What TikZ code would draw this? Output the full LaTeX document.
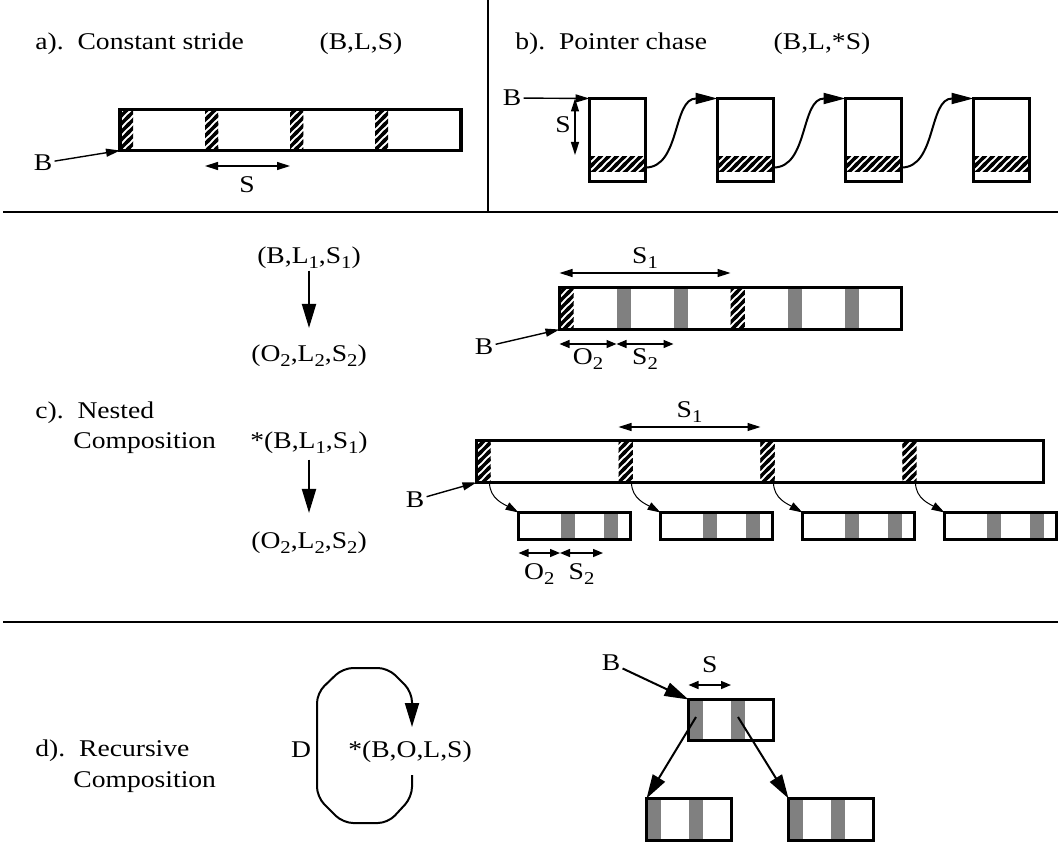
\documentclass[tikz,border=0pt]{standalone}
\usepackage{fontspec}
\setmainfont{Liberation Serif}[FakeStretch=1.15]
\usepackage{tikz}
\usetikzlibrary{arrows.meta,patterns}
\pgfdeclarepatternformonly{hatch}{\pgfqpoint{-1pt}{-1pt}}{\pgfqpoint{5pt}{5pt}}{\pgfqpoint{4pt}{4pt}}{%
  \pgfsetlinewidth{1.6pt}
  \pgfpathmoveto{\pgfqpoint{-1pt}{-1pt}}\pgfpathlineto{\pgfqpoint{5pt}{5pt}}
  \pgfpathmoveto{\pgfqpoint{-1pt}{3pt}}\pgfpathlineto{\pgfqpoint{1pt}{5pt}}
  \pgfpathmoveto{\pgfqpoint{3pt}{-1pt}}\pgfpathlineto{\pgfqpoint{5pt}{1pt}}
  \pgfusepath{stroke}}
\newcommand\lsub[1]{\raisebox{-2.5pt}{\fontsize{9}{9}\selectfont#1}}

\begin{document}
\begin{tikzpicture}[x=0.5pt, y=-0.5pt, font=\fontsize{12}{15}\selectfont,
  box/.style={draw, line width=1.6pt, inner sep=0pt, outer sep=0pt, anchor=north west},
  ttl/.style={anchor=base west, inner sep=0pt},
  fml/.style={anchor=base, inner sep=1pt},
  lbl/.style={inner sep=1pt},
  grayband/.style={fill=black!50},
  sep/.style={line width=0.8pt},
  arr/.style={-{Triangle[length=7pt,width=4pt]}, line width=0.7pt},
  darr/.style={{Triangle[length=6.5pt,width=4pt]}-{Triangle[length=6.5pt,width=4pt]}, line width=0.7pt},
  sarr/.style={{Triangle[length=5pt,width=4pt]}-{Triangle[length=5pt,width=4pt]}, line width=0.7pt},
  curv/.style={-{Triangle[length=11pt,width=5.5pt]}, line width=1pt},
  arrc/.style={-{Triangle[length=6.5pt,width=4pt]}, line width=0.5pt},
  bigarr/.style={-{Triangle[length=12pt,width=7pt]}, line width=1pt}]
\useasboundingbox (0,0) rectangle (1058,845);

% separators
\draw[sep] (3,212) -- (1058,212);
\draw[sep] (488,0) -- (488,212);
\draw[sep] (3,622) -- (1058,622);

% a) constant stride
\node[ttl] (ta) at (35,50) {a).\ \ Constant stride};
\node[fml] (af) at (361,50) {(B,L,S)};
\foreach \i in {0,...,3}
  \fill[pattern=hatch] (120+85*\i,109.5) rectangle ++(13,41);
\node[box, minimum width=170.5pt, minimum height=20.5pt] (abar) at (120,109.5) {};
\node[lbl] (aB) at (43,163) {B};
\draw[arr] (aB) -- (abar.south west);
\coordinate (aS1) at (205,166);
\coordinate (aS2) at (290,166);
\draw[darr] (aS1) -- (aS2);
\node[lbl] (aS) at (247,185) {S};

% b) pointer chase
\node[ttl] (tb) at (515,50) {b).\ \ Pointer chase};
\node[fml] (bf) at (822,50) {(B,L,*S)};
\foreach \i in {1,...,4} {
  \fill[pattern=hatch] (461.5+128*\i,157) rectangle ++(56,15);
  \node[box, minimum width=28pt, minimum height=41.5pt] (b\i) at (461.5+128*\i,98.5) {};
}
\foreach \i/\j in {1/2,2/3,3/4}
  \draw[curv] ([yshift=7pt]b\i.south east) .. controls +(35,0) and +(-45,0) .. (b\j.north west);
\node[lbl] (bB) at (512,98) {B};
\draw[arr] (bB) -- (b1.north west);
\coordinate (bS1) at (575,98.5);
\coordinate (bS2) at (575,155);
\draw[darr] (bS1) -- (bS2);
\node[lbl] (bS) at (563,125) {S};

% c) nested composition
\node[ttl] (tc1) at (35,418) {c).\ \ Nested};
\node[ttl] (tc2) at (73,448) {Composition};
\node[fml] (f1) at (309,263) {(B,L\lsub{1},S\lsub{1})};
\node[fml] (f2) at (309,361) {(O\lsub{2},L\lsub{2},S\lsub{2})};
\draw[bigarr, shorten >=7pt] (f1) -- (f2);
\node[fml] (f3) at (309,448) {*(B,L\lsub{1},S\lsub{1})};
\node[fml] (f4) at (309,548) {(O\lsub{2},L\lsub{2},S\lsub{2})};
\draw[bigarr, shorten <=2pt, shorten >=8pt] (f3) -- (f4);

\foreach \i in {0,3}
  \fill[pattern=hatch] (559.5+57*\i,287.5) rectangle ++(14,42);
\foreach \i in {1,2,4,5}
  \fill[grayband] (559.5+57*\i,287.5) rectangle ++(14,42);
\node[box, minimum width=171pt, minimum height=21pt] (cbar) at (559.5,287.5) {};
\coordinate (cS1a) at (559.5,273);
\coordinate (cS1b) at (730.5,273);
\draw[darr] (cS1a) -- node[lbl, above=1pt] (cS1) {S\lsub{1}} (cS1b);
\coordinate (cO0) at (559.5,344);
\coordinate (cO1) at (616.5,344);
\coordinate (cO2) at (673.5,344);
\draw[sarr] (cO0) -- node[lbl, below=1pt] (cO) {O\lsub{2}} (cO1);
\draw[sarr] (cO1) -- node[lbl, below=1pt] (cS) {S\lsub{2}} (cO2);
\node[lbl] (cB) at (484,347) {B};
\draw[arr] (cB) -- (cbar.south west);

\foreach \i in {0,...,3}
  \fill[pattern=hatch] (476.5+142*\i,440.5) rectangle ++(14,42);
\node[box, minimum width=283.5pt, minimum height=21pt] (cbig) at (476.5,440.5) {};
\coordinate (cS1c) at (618.5,427);
\coordinate (cS1d) at (760.5,427);
\draw[darr] (cS1c) -- node[lbl, above=1pt] (cS1x) {S\lsub{1}} (cS1d);
\foreach \i in {1,...,4} {
  \fill[grayband] (418.5+142*\i,512.5) rectangle ++(14,27);
  \fill[grayband] (461.5+142*\i,512.5) rectangle ++(14,27);
  \node[box, minimum width=56pt, minimum height=13.5pt] (sb\i) at (376.5+142*\i,512.5) {};
  \coordinate (hs\i) at (347.5+142*\i,482.5);
  \draw[arrc] (hs\i) to[out=-90, in=150] (sb\i.north west);
}
\coordinate (cO3) at (518.5,553);
\coordinate (cO4) at (560,553);
\coordinate (cO5) at (603,553);
\draw[sarr] (cO3) -- node[lbl, below=4pt] (cOx) {O\lsub{2}} (cO4);
\draw[sarr] (cO4) -- node[lbl, below=4pt] (cSx) {S\lsub{2}} (cO5);
\node[lbl] (cB2) at (415,500) {B};
\draw[arr] (cB2) -- (cbig.south west);

% d) recursive composition
\node[ttl] (td1) at (35,756) {d).\ \ Recursive};
\node[ttl] (td2) at (73,787) {Composition};
\node[fml] (dform) at (410,757) {*(B,O,L,S)};
\node[fml] (dD) at (301,757) {D};
\coordinate (dlo) at (412,775);
\coordinate (dhi) at (412,727);
\draw[bigarr, rounded corners=5pt] (dlo) -- (412,797) -- (388,823) -- (343,823) -- (317,797)
  -- (317,693) -- (343,668) -- (388,668) -- (412,692) -- (dhi);

\fill[grayband] (688.5,699.5) rectangle ++(14,41);
\fill[grayband] (731,699.5) rectangle ++(14,41);
\node[box, minimum width=42.5pt, minimum height=20.5pt] (dtop) at (688.5,699.5) {};
\fill[grayband] (646.5,798.5) rectangle ++(14,42);
\fill[grayband] (689,798.5) rectangle ++(14,42);
\node[box, minimum width=42.5pt, minimum height=21pt] (dleft) at (646.5,798.5) {};
\fill[grayband] (788.5,798.5) rectangle ++(14,42);
\fill[grayband] (831,798.5) rectangle ++(14,42);
\node[box, minimum width=42.5pt, minimum height=21pt] (dright) at (788.5,798.5) {};
\coordinate (dp1) at (696,717);
\coordinate (dp2) at (738,717);
\draw[bigarr] (dp1) -- (dleft.north west);
\draw[bigarr] (dp2) -- (dright.north west);
\node[lbl] (dB) at (611,663) {B};
\draw[bigarr] (dB) -- (dtop.north west);
\coordinate (dS1) at (688.5,685);
\coordinate (dS2) at (731,685);
\draw[sarr] (dS1) -- node[lbl, above=5pt] (dS) {S} (dS2);
\end{tikzpicture}
\end{document}
